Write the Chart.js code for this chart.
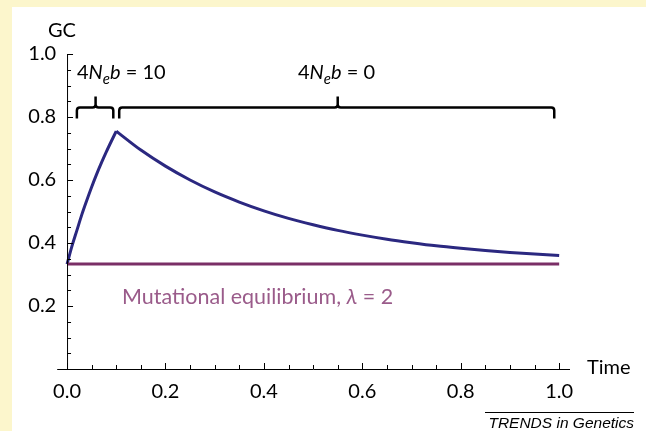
<!DOCTYPE html>
<html>
<head>
<meta charset="utf-8">
<script src="https://cdn.jsdelivr.net/npm/chart.js@4.4.0/dist/chart.umd.min.js"></script>
<style>
  html, body { margin: 0; padding: 0; }
  body { width: 646px; height: 431px; background: #fcf6cc; position: relative; overflow: hidden; }
  #panel { position: absolute; left: 12px; top: 7px; right: 0; bottom: 0; background: #ffffff; }
  #gcChart { position: absolute; left: 0; top: 0; }
</style>
</head>
<body>
<div id="panel"></div>
<canvas id="gcChart" width="646" height="431"></canvas>
<script>
// 데이터 =====================================================================
// 선택 구간 (4Neb = 10) : 시간 0 ~ 0.1
const riseTime = [0, 0.01, 0.02, 0.03, 0.04, 0.05, 0.06, 0.07, 0.08, 0.09, 0.1];
const riseGC   = [0.333, 0.39, 0.44, 0.49, 0.535, 0.578, 0.618, 0.655, 0.69, 0.723, 0.755];

// 중립 구간 (4Neb = 0) : 시간 0.1 ~ 1.0
const decayTime = [0.1, 0.15, 0.2, 0.25, 0.3, 0.35, 0.4, 0.45, 0.5, 0.55, 0.6, 0.65, 0.7, 0.75, 0.8, 0.85, 0.9, 0.95, 1.0];
const decayGC   = [0.755, 0.695, 0.644, 0.600, 0.562, 0.530, 0.502, 0.478, 0.458, 0.440, 0.425, 0.412, 0.401, 0.391, 0.383, 0.376, 0.370, 0.365, 0.360];

// 돌연변이 평형 (lambda = 2)
const equilibTime = [0, 1.0];
const equilibGC   = [0.333, 0.333];

// 축 눈금
const xTickLabels = [0, 0.2, 0.4, 0.6, 0.8, 1.0];
const yTickLabels = [0.2, 0.4, 0.6, 0.8, 1.0];
const minorStep = 0.05;

// 중괄호 (구간 표시)
const braceFrom = [0.02, 0.106];
const braceTo   = [0.094, 0.99];
const braceTip  = [0.058, 0.55];
const braceText = ['10', '0'];

const FONT = 'Lato, "Open Sans", sans-serif';
const BLUE = '#2b2880';
const PURPLE = '#7a2e66';

function toPoints(xs, ys){
    return xs.map((x, i) => ({x: x, y: ys[i]}));
}

// 안쪽 눈금, 축선, 중괄호, 라벨 그리기
const decorPlugin = {
    id: 'decor',
    afterDraw(chart){
        const ctx = chart.ctx;
        const xs = chart.scales.x;
        const ys = chart.scales.y;
        const x0 = xs.getPixelForValue(0);
        const y0 = ys.getPixelForValue(0);
        ctx.save();
        ctx.strokeStyle = '#000';
        ctx.lineWidth = 1;

        // 축선
        ctx.beginPath();
        ctx.moveTo(x0 + 0.5, y0);
        ctx.lineTo(x0 + 0.5, ys.getPixelForValue(1.0));
        ctx.moveTo(chart.chartArea.left, y0 + 0.5);
        ctx.lineTo(chart.chartArea.right, y0 + 0.5);
        ctx.stroke();

        // 눈금 (안쪽)
        ctx.beginPath();
        for (let i = 0; i <= 20; i++) {
            const v = i * minorStep;
            const major = (i % 4 === 0);
            const px = Math.round(xs.getPixelForValue(v)) + 0.5;
            ctx.moveTo(px, y0);
            ctx.lineTo(px, y0 - (major ? 6 : 4));
            const py = Math.round(ys.getPixelForValue(v)) + 0.5;
            ctx.moveTo(x0, py);
            ctx.lineTo(x0 + (major ? 6 : 4), py);
        }
        ctx.stroke();

        // 중괄호
        ctx.lineWidth = 2.5;
        ctx.lineJoin = 'round';
        const yLine = ys.getPixelForValue(0.83);
        const yEnd = ys.getPixelForValue(0.795);
        const yTipTop = ys.getPixelForValue(0.865);
        const r = 3;
        for (let i = 0; i < braceFrom.length; i++) {
            const a = xs.getPixelForValue(braceFrom[i]);
            const b = xs.getPixelForValue(braceTo[i]);
            const t = xs.getPixelForValue(braceTip[i]);
            ctx.beginPath();
            ctx.moveTo(a, yEnd);
            ctx.lineTo(a, yLine + r);
            ctx.quadraticCurveTo(a, yLine, a + r, yLine);
            ctx.lineTo(t - r, yLine);
            ctx.quadraticCurveTo(t, yLine, t, yLine - r);
            ctx.lineTo(t, yTipTop);
            ctx.moveTo(t, yLine - r);
            ctx.quadraticCurveTo(t, yLine, t + r, yLine);
            ctx.lineTo(b - r, yLine);
            ctx.quadraticCurveTo(b, yLine, b, yLine + r);
            ctx.lineTo(b, yEnd);
            ctx.stroke();
        }

        // 4Neb 라벨
        const drawNeb = (left, cy, val) => {
            ctx.textBaseline = 'middle';
            ctx.textAlign = 'left';
            let x = left;
            const parts = [
                ['4', 'normal 20px ' + FONT, 0],
                ['N', 'italic 20px ' + FONT, 0],
                ['e', 'italic 15px ' + FONT, 6],
                ['b', 'italic 20px ' + FONT, 0],
                [' = ' + val, 'normal 20px ' + FONT, 0]
            ];
            ctx.fillStyle = '#000';
            parts.forEach(p => {
                ctx.font = p[1];
                ctx.fillText(p[0], x, cy + p[2]);
                x += ctx.measureText(p[0]).width;
            });
        };
        drawNeb(77, 73, braceText[0]);
        drawNeb(298, 73, braceText[1]);

        // 축 제목
        ctx.fillStyle = '#000';
        ctx.font = 'normal 20px ' + FONT;
        ctx.textBaseline = 'middle';
        ctx.textAlign = 'left';
        ctx.fillText('GC', 48, 31);
        ctx.fillText('Time', 587, 368);

        // 평형 라벨
        ctx.fillStyle = '#9a5b8a';
        ctx.font = 'normal 21.5px ' + FONT;
        ctx.fillText('Mutational equilibrium, ', 122, 297);
        let w = ctx.measureText('Mutational equilibrium, ').width;
        ctx.font = 'italic 21.5px ' + FONT;
        ctx.fillText('\u03bb', 122 + w, 297);
        w += ctx.measureText('\u03bb').width;
        ctx.font = 'normal 21.5px ' + FONT;
        ctx.fillText(' = 2', 122 + w, 297);

        // 출처
        ctx.fillStyle = '#000';
        ctx.font = 'italic 15.5px "Liberation Sans", Arial, sans-serif';
        ctx.textAlign = 'right';
        ctx.fillText('TRENDS in Genetics', 634, 424);
        ctx.lineWidth = 1;
        ctx.beginPath();
        ctx.moveTo(485, 412.5);
        ctx.lineTo(634, 412.5);
        ctx.stroke();
        ctx.restore();
    }
};

const ctx = document.getElementById('gcChart');
const gcChart = new Chart(ctx, {
    type: 'line',
    data: {
        datasets: [
            {
                data: toPoints(equilibTime, equilibGC),
                borderColor: PURPLE,
                borderWidth: 3,
                pointRadius: 0,
                tension: 0
            },
            {
                data: toPoints(riseTime, riseGC),
                borderColor: BLUE,
                borderWidth: 3,
                pointRadius: 0,
                cubicInterpolationMode: 'monotone'
            },
            {
                data: toPoints(decayTime, decayGC),
                borderColor: BLUE,
                borderWidth: 3,
                pointRadius: 0,
                cubicInterpolationMode: 'monotone'
            }
        ]
    },
    options: {
        responsive: false,
        animation: false,
        devicePixelRatio: 1,
        layout: { padding: { top: 54, right: 76, left: 0, bottom: 0 } },
        plugins: { legend: { display: false }, tooltip: { enabled: false } },
        scales: {
            x: {
                type: 'linear',
                min: -0.02,
                max: 1.022,
                grid: { display: false, drawTicks: false },
                border: { display: false },
                afterBuildTicks: (scale) => { scale.ticks = xTickLabels.map(v => ({value: v})); },
                afterFit: (scale) => { scale.height = 62; },
                ticks: {
                    padding: 11,
                    color: '#000',
                    font: { family: FONT, size: 20 },
                    callback: (v) => v.toFixed(1)
                }
            },
            y: {
                type: 'linear',
                min: 0,
                max: 1.0,
                grid: { display: false, drawTicks: false },
                border: { display: false },
                afterBuildTicks: (scale) => { scale.ticks = yTickLabels.map(v => ({value: v})); },
                afterFit: (scale) => { scale.width = 57.2; },
                ticks: {
                    padding: 1,
                    color: '#000',
                    font: { family: FONT, size: 20 },
                    callback: (v) => v.toFixed(1)
                }
            }
        }
    },
    plugins: [decorPlugin]
});
</script>
</body>
</html>
